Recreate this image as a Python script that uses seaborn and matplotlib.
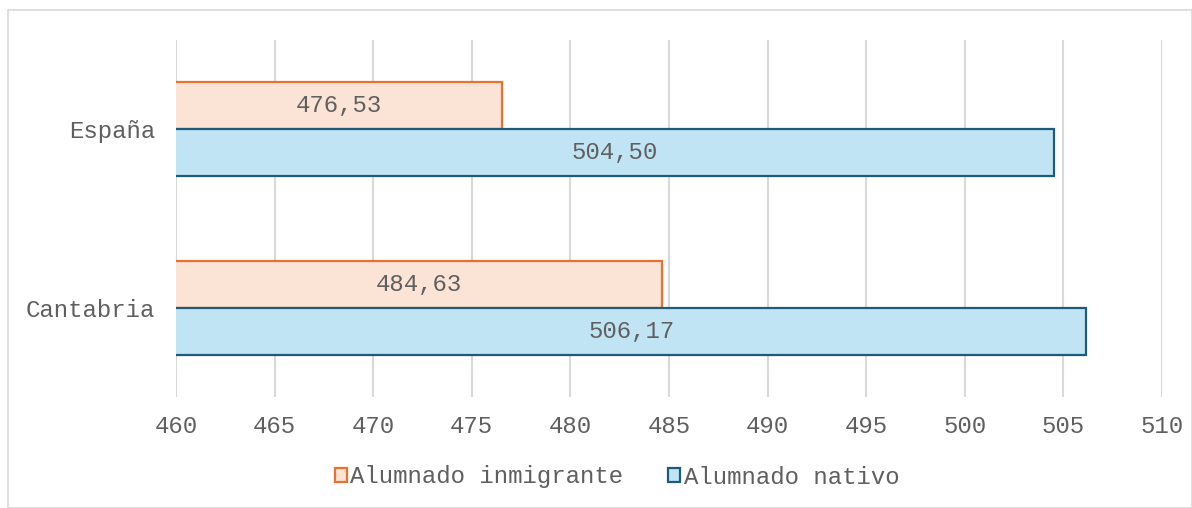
import pandas as pd
import matplotlib.pyplot as plt
import seaborn as sns
from matplotlib.patches import Rectangle, Patch

regiones = ["España", "Cantabria"]
series = ["Alumnado inmigrante", "Alumnado nativo"]
inmigrante = [476.53, 484.63]
nativo = [504.50, 506.17]
ticks_x = [460, 465, 470, 475, 480, 485, 490, 495, 500, 505, 510]

relleno = {"Alumnado inmigrante": "#FBE3D6", "Alumnado nativo": "#C1E4F5"}
borde = {"Alumnado inmigrante": "#E97132", "Alumnado nativo": "#1D5B7B"}
gris = "#5f5f5f"
fuente = "Liberation Mono"
tam = 17.3

df = pd.DataFrame({
    "Region": regiones * 2,
    "Serie": [series[0]] * 2 + [series[1]] * 2,
    "Valor": inmigrante + nativo,
})

sns.set_style("white")
plt.rcParams["font.family"] = [fuente, "DejaVu Sans"]

fig = plt.figure(figsize=(11.92, 5.08), dpi=100)
ax = fig.add_axes([176 / 1192, 1 - 397 / 508, (1162 - 176) / 1192, (397 - 40) / 508])

sns.barplot(data=df, y="Region", x="Valor", hue="Serie", order=regiones,
            hue_order=series, orient="h", width=0.525, ax=ax, legend=False)

for cont, s in zip(ax.containers, series):
    for bar in cont:
        bar.set_facecolor(relleno[s])
        bar.set_edgecolor(borde[s])
        bar.set_linewidth(1.6)
        w = bar.get_width()
        ax.text((460 + w) / 2, bar.get_y() + bar.get_height() / 2,
                f"{w:.2f}".replace(".", ","), ha="center", va="center",
                fontsize=tam, color=gris, family=fuente)

ax.set_xlim(460, 510)
ax.set_ylim(1.5, -0.5)
ax.set_xticks(ticks_x)
ax.set_xticklabels([str(t) for t in ticks_x], fontsize=tam, color=gris, family=fuente)
ax.tick_params(axis="x", length=0, pad=13)
ax.tick_params(axis="y", length=0, pad=15, labelsize=tam, labelcolor=gris)
for lbl in ax.get_yticklabels():
    lbl.set_family(fuente)
ax.set_xlabel("")
ax.set_ylabel("")
ax.grid(axis="x", color="#D9D9D9", linewidth=1.5)
ax.set_axisbelow(True)
for sp in ax.spines.values():
    sp.set_visible(False)

handles = [Patch(facecolor=relleno[s], edgecolor=borde[s], linewidth=1.6) for s in series]
fig.legend(handles, series, loc="center", bbox_to_anchor=(617 / 1192, 1 - 477 / 508),
           ncol=2, frameon=False, handlelength=0.5, handleheight=0.55, handletextpad=0.15,
           columnspacing=1.85, prop={"family": fuente, "size": tam}, labelcolor=gris)

fig.patches.append(Rectangle((8 / 1192, 0), 1 - 8 / 1192, 1 - 10 / 508, transform=fig.transFigure,
                             fill=False, edgecolor="#D9D9D9", linewidth=1.2))

fig.savefig("out.png", dpi=100)
